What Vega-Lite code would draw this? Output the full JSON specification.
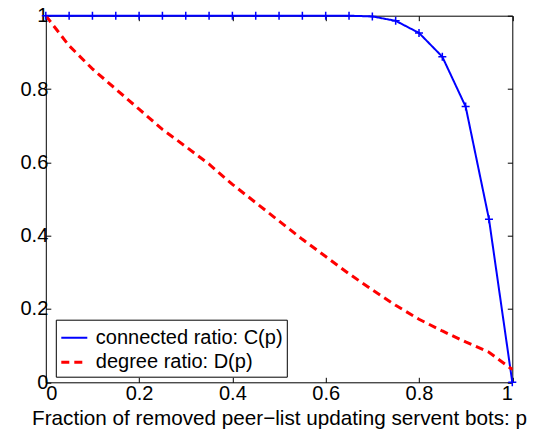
{
  "$schema": "https://vega.github.io/schema/vega-lite/v6.json",
  "width": 466.5,
  "height": 366.6,
  "autosize": {"type": "none"},
  "padding": {"left": 45.8, "top": 15.7, "right": 26.7, "bottom": 47.7},
  "background": "white",
  "config": {
    "view": {"stroke": "black", "strokeWidth": 1},
    "font": "Liberation Sans",
    "axis": {"labelFont": "Liberation Sans", "titleFont": "Liberation Sans", "labelFontSize": 20, "titleFontSize": 20.7, "titleFontWeight": "normal", "labelColor": "black", "titleColor": "black", "domainColor": "black", "tickColor": "black", "grid": false}
  },
  "data": {"values": [
    {"p": 0.00, "v": 1.0, "s": "connected ratio: C(p)"},
    {"p": 0.05, "v": 1.0, "s": "connected ratio: C(p)"},
    {"p": 0.10, "v": 1.0, "s": "connected ratio: C(p)"},
    {"p": 0.15, "v": 1.0, "s": "connected ratio: C(p)"},
    {"p": 0.20, "v": 1.0, "s": "connected ratio: C(p)"},
    {"p": 0.25, "v": 1.0, "s": "connected ratio: C(p)"},
    {"p": 0.30, "v": 1.0, "s": "connected ratio: C(p)"},
    {"p": 0.35, "v": 1.0, "s": "connected ratio: C(p)"},
    {"p": 0.40, "v": 1.0, "s": "connected ratio: C(p)"},
    {"p": 0.45, "v": 1.0, "s": "connected ratio: C(p)"},
    {"p": 0.50, "v": 1.0, "s": "connected ratio: C(p)"},
    {"p": 0.55, "v": 1.0, "s": "connected ratio: C(p)"},
    {"p": 0.60, "v": 1.0, "s": "connected ratio: C(p)"},
    {"p": 0.65, "v": 1.0, "s": "connected ratio: C(p)"},
    {"p": 0.70, "v": 0.998, "s": "connected ratio: C(p)"},
    {"p": 0.75, "v": 0.986, "s": "connected ratio: C(p)"},
    {"p": 0.80, "v": 0.953, "s": "connected ratio: C(p)"},
    {"p": 0.85, "v": 0.888, "s": "connected ratio: C(p)"},
    {"p": 0.90, "v": 0.752, "s": "connected ratio: C(p)"},
    {"p": 0.95, "v": 0.445, "s": "connected ratio: C(p)"},
    {"p": 1.00, "v": 0.0, "s": "connected ratio: C(p)"},
    {"p": 0.00, "v": 1.0, "s": "degree ratio: D(p)"},
    {"p": 0.05, "v": 0.918, "s": "degree ratio: D(p)"},
    {"p": 0.10, "v": 0.855, "s": "degree ratio: D(p)"},
    {"p": 0.15, "v": 0.80, "s": "degree ratio: D(p)"},
    {"p": 0.20, "v": 0.745, "s": "degree ratio: D(p)"},
    {"p": 0.25, "v": 0.69, "s": "degree ratio: D(p)"},
    {"p": 0.30, "v": 0.643, "s": "degree ratio: D(p)"},
    {"p": 0.35, "v": 0.595, "s": "degree ratio: D(p)"},
    {"p": 0.40, "v": 0.54, "s": "degree ratio: D(p)"},
    {"p": 0.45, "v": 0.49, "s": "degree ratio: D(p)"},
    {"p": 0.50, "v": 0.44, "s": "degree ratio: D(p)"},
    {"p": 0.55, "v": 0.39, "s": "degree ratio: D(p)"},
    {"p": 0.60, "v": 0.343, "s": "degree ratio: D(p)"},
    {"p": 0.65, "v": 0.296, "s": "degree ratio: D(p)"},
    {"p": 0.70, "v": 0.252, "s": "degree ratio: D(p)"},
    {"p": 0.75, "v": 0.21, "s": "degree ratio: D(p)"},
    {"p": 0.80, "v": 0.172, "s": "degree ratio: D(p)"},
    {"p": 0.85, "v": 0.14, "s": "degree ratio: D(p)"},
    {"p": 0.90, "v": 0.11, "s": "degree ratio: D(p)"},
    {"p": 0.95, "v": 0.082, "s": "degree ratio: D(p)"},
    {"p": 1.00, "v": 0.035, "s": "degree ratio: D(p)"}
  ]},
  "layer": [
    {
      "mark": {"type": "line", "clip": false},
      "encoding": {
        "x": {"field": "p", "type": "quantitative", "scale": {"domain": [0, 1], "nice": false},
          "axis": {"orient": "bottom", "values": [0, 0.2, 0.4, 0.6, 0.8, 1], "format": "~g", "tickSize": -5, "labelPadding": 6, "domain": false,
            "title": "Fraction of removed peer\u2212list updating servent bots: p", "titleBaseline": "alphabetic", "titleY": 41.7}},
        "y": {"field": "v", "type": "quantitative", "scale": {"domain": [0, 1], "nice": false},
          "axis": {"orient": "left", "values": [0, 0.2, 0.4, 0.6, 0.8, 1], "format": "~g", "tickSize": -5, "labelPadding": 3, "domain": false, "title": null}},
        "color": {"field": "s", "type": "nominal", "scale": {"domain": ["connected ratio: C(p)", "degree ratio: D(p)"], "range": ["#0000ff", "#ff0000"]},
          "legend": {"title": null, "orient": "none", "legendX": 10, "legendY": 304, "strokeColor": "black", "fillColor": "white", "padding": 4, "labelFontSize": 20, "labelFont": "Liberation Sans", "labelColor": "black", "labelLimit": 400, "symbolType": "stroke", "symbolSize": 676, "labelOffset": 7, "rowPadding": -4, "symbolStrokeWidth": 2.5}},
        "strokeDash": {"field": "s", "type": "nominal", "scale": {"domain": ["connected ratio: C(p)", "degree ratio: D(p)"], "range": [[1, 0], [8, 5]]}, "legend": null},
        "strokeWidth": {"field": "s", "type": "nominal", "scale": {"domain": ["connected ratio: C(p)", "degree ratio: D(p)"], "range": [2, 3]}, "legend": null}
      }
    },
    {
      "transform": [{"filter": "datum.s == 'connected ratio: C(p)'"}],
      "mark": {"type": "point", "shape": "M-1,0H1M0,-1V1", "filled": false, "stroke": "#0000ff", "strokeWidth": 1.5, "size": 64, "clip": false, "opacity": 1},
      "encoding": {
        "x": {"field": "p", "type": "quantitative",
          "axis": {"orient": "top", "values": [0, 0.2, 0.4, 0.6, 0.8, 1], "labels": false, "tickSize": -5, "domain": false, "title": null}},
        "y": {"field": "v", "type": "quantitative",
          "axis": {"orient": "right", "values": [0, 0.2, 0.4, 0.6, 0.8, 1], "labels": false, "tickSize": -5, "domain": false, "title": null}}
      }
    }
  ],
  "resolve": {"axis": {"x": "independent", "y": "independent"}}
}
